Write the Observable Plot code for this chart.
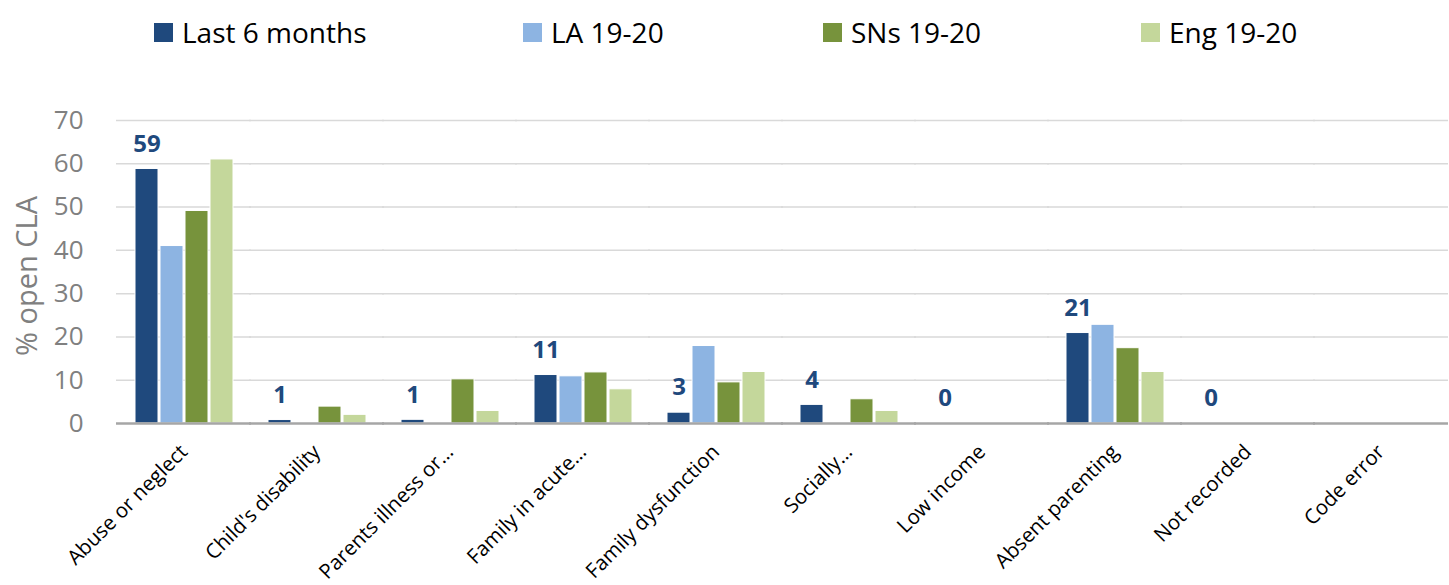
<!DOCTYPE html>
<html><head><meta charset="utf-8">
<script src="https://cdn.jsdelivr.net/npm/d3@7"></script>
<script src="https://cdn.jsdelivr.net/npm/@observablehq/plot@0.6"></script>
<style>
body{margin:0;background:#fff;font-family:"Open Sans",sans-serif;}
#legend{position:relative;height:60px;width:1449px;}
.item{position:absolute;top:12px;display:flex;align-items:center;font-size:28px;color:#000;line-height:40px;}
.sw{width:19px;height:19px;margin-right:9px;}
</style></head><body>
<div id="legend"></div>
<div id="chart"></div>
<script>
const categories = ["Abuse or neglect","Child's disability","Parents illness or…","Family in acute…","Family dysfunction","Socially…","Low income","Absent parenting","Not recorded","Code error"];
const seriesNames = ["Last 6 months","LA 19-20","SNs 19-20","Eng 19-20"];
const seriesColors = ["#1F497D","#8DB4E2","#77933C","#C4D79B"];
const last6 = [58.8, 0.8, 0.85, 11.2, 2.5, 4.3, 0, 20.9, 0, null];
const la19  = [41.0, null, null, 10.9, 17.9, null, null, 22.8, null, null];
const sns19 = [49.1, 3.9, 10.2, 11.8, 9.5, 5.6, null, 17.4, null, null];
const eng19 = [61.0, 2.0, 2.9, 7.9, 11.9, 2.9, null, 11.9, null, null];
const last6Labels = ["59","1","1","11","3","4","0","21","0",null];
const yTicks = [0,10,20,30,40,50,60,70];
const legendLeft = [154, 523, 823, 1141];

const seriesValues = [last6, la19, sns19, eng19];
const data = [];
categories.forEach((c,i)=>{
  seriesValues.forEach((arr,j)=>{
    data.push({category:c, series:seriesNames[j], value:arr[i]});
  });
});
const labelData = categories.map((c,i)=>({category:c, series:seriesNames[0], value:last6[i] ?? 0, label:last6Labels[i]})).filter(d=>d.label!=null);

const legend = document.getElementById("legend");
seriesNames.forEach((s,i)=>{
  const it = document.createElement("div");
  it.className = "item";
  it.style.left = legendLeft[i] + "px";
  const sw = document.createElement("span");
  sw.className = "sw"; sw.style.background = seriesColors[i];
  const tx = document.createElement("span");
  tx.textContent = s;
  it.appendChild(sw); it.appendChild(tx);
  legend.appendChild(it);
});

const chart = Plot.plot({
  width: 1449, height: 525,
  marginTop: 60, marginBottom: 162, marginLeft: 117, marginRight: 2,
  style: {fontFamily: "'Open Sans', sans-serif", background: "#fff"},
  fx: {domain: categories, paddingInner: 0.24, paddingOuter: 0.12, label: null},
  x: {domain: seriesNames, paddingInner: 0.1, paddingOuter: 0, axis: null},
  y: {domain: [0, 70]},
  color: {domain: seriesNames, range: seriesColors},
  marks: [
    Plot.ruleY(yTicks.filter(t=>t>0), {stroke: "#d9d9d9", strokeWidth: 1.5, insetLeft: -17, insetRight: -17}),
    Plot.barY(data, {fx: "category", x: "series", y: "value", fill: "series", stroke: "#fff", strokeWidth: 1}),
    Plot.ruleY([0], {stroke: "#a6a6a6", strokeWidth: 2.5, insetLeft: -17, insetRight: -17}),
    Plot.text(labelData, {fx: "category", x: "series", y: "value", text: "label", dy: -25, fontSize: 24, fontWeight: "bold", fill: "#1F497D"}),
    Plot.axisY({ticks: yTicks, tickSize: 0, tickPadding: 50, fontSize: 26, color: "#808080", label: null}),
    Plot.text(["% open CLA"], {fx: () => categories[0], text: d=>d, frameAnchor: "left", textAnchor: "middle", rotate: -90, dx: -106, dy: 4, fontSize: 29, fill: "#808080"}),
    Plot.axisFx({anchor: "bottom", tickRotate: -45, tickSize: 0, tickPadding: 25, fontSize: 20.5, color: "#000", label: null})
  ]
});
document.getElementById("chart").appendChild(chart);
</script>
</body></html>
